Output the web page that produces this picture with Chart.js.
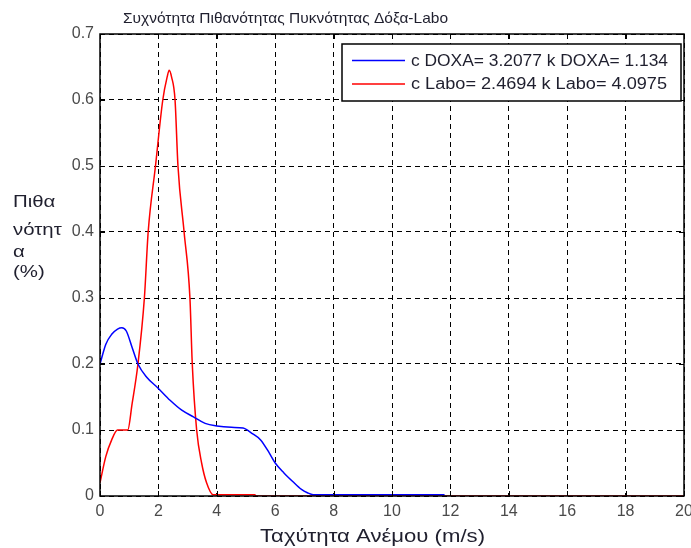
<!DOCTYPE html>
<html>
<head>
<meta charset="utf-8">
<script src="https://cdn.jsdelivr.net/npm/chart.js@4/dist/chart.umd.min.js"></script>
<style>
body { margin: 0; background: #fff; }
#wrap { width: 691px; height: 548px; }
</style>
</head>
<body>
<div id="wrap"><canvas id="myChart"></canvas></div>
<script>
// chart texts
var chartTitle = 'Συχνότητα Πιθανότητας Πυκνότητας Δόξα-Labo';
var xTitle = 'Ταχύτητα Ανέμου (m/s)';
var yTitle = ['Πιθα', 'νότητ', 'α', '(%)'];
var xTicks = [0, 2, 4, 6, 8, 10, 12, 14, 16, 18, 20];
var yTicks = [0, 0.1, 0.2, 0.3, 0.4, 0.5, 0.6, 0.7];

// series
var doxaLabel = 'c DOXA= 3.2077 k DOXA= 1.134';
var doxaX = [0, 0.2, 0.4, 0.6, 0.75, 0.9, 1.1, 1.3, 1.6, 2.0, 2.4, 2.8, 3.2, 3.6, 4.0, 4.5, 4.9, 5.2, 5.5, 5.8, 6.0, 6.3, 6.6, 6.9, 7.1, 7.3, 11.8];
var doxaY = [0.2, 0.23, 0.245, 0.253, 0.255, 0.25, 0.225, 0.2, 0.18, 0.163, 0.145, 0.13, 0.12, 0.11, 0.106, 0.104, 0.103, 0.095, 0.085, 0.065, 0.05, 0.035, 0.022, 0.01, 0.005, 0.002, 0.002];

var laboLabel = 'c Labo= 2.4694 k Labo= 4.0975';
var laboX = [0, 0.2, 0.4, 0.6, 0.95, 1.1, 1.3, 1.52, 1.65, 1.9, 2.15, 2.3, 2.37, 2.45, 2.57, 2.67, 2.88, 3.08, 3.16, 3.31, 3.48, 3.65, 3.87, 5.3, 5.35, 20];
var laboY = [0.02, 0.06, 0.085, 0.1, 0.1, 0.14, 0.2, 0.3, 0.4, 0.5, 0.6, 0.635, 0.645, 0.635, 0.6, 0.5, 0.4, 0.3, 0.2, 0.1, 0.05, 0.02, 0.002, 0.002, 0, 0];

function pairs(xs, ys) {
    return xs.map(function (x, i) { return { x: x, y: ys[i] }; });
}

var FONT = '"Liberation Sans", Arial, sans-serif';
var TXT = '#1f1f2e';

// draws text left-aligned, stretched sideways to a given width (or by a factor)
function drawText(ctx, text, x, y, size, width, factor) {
    ctx.save();
    ctx.font = size + 'px ' + FONT;
    ctx.textAlign = 'left';
    ctx.textBaseline = 'middle';
    var w = ctx.measureText(text).width;
    var sx = width ? width / w : (factor || 1);
    ctx.translate(x, y);
    ctx.scale(sx, 1);
    ctx.fillText(text, 0, 0);
    ctx.restore();
}

var framePlugin = {
    id: 'frame',
    beforeDraw: function (chart) {
        var ctx = chart.ctx;
        ctx.save();
        ctx.fillStyle = '#fff';
        ctx.fillRect(0, 0, chart.width, chart.height);
        ctx.restore();
    },
    afterDraw: function (chart) {
        var ctx = chart.ctx, a = chart.chartArea;
        var xs = chart.scales.x, ys = chart.scales.y;
        ctx.save();
        ctx.setLineDash([]);
        ctx.strokeStyle = '#000';
        ctx.lineWidth = 1.5;
        ctx.strokeRect(Math.round(a.left), Math.round(a.top), Math.round(a.width), Math.round(a.height));

        // ticks pointing inside, all four sides
        ctx.lineWidth = 1;
        ctx.beginPath();
        xTicks.forEach(function (v) {
            var px = Math.round(xs.getPixelForValue(v)) + 0.5;
            ctx.moveTo(px, a.bottom); ctx.lineTo(px, a.bottom - 5);
            ctx.moveTo(px, a.top); ctx.lineTo(px, a.top + 5);
        });
        yTicks.forEach(function (v) {
            var py = Math.round(ys.getPixelForValue(v)) + 0.5;
            ctx.moveTo(a.left, py); ctx.lineTo(a.left + 5, py);
            ctx.moveTo(a.right, py); ctx.lineTo(a.right - 5, py);
        });
        ctx.stroke();

        // titles
        ctx.fillStyle = TXT;
        drawText(ctx, chartTitle, 123, 19, 15, 325);
        drawText(ctx, xTitle, 260, 537, 18, 225);
        var yCenters = [202, 230, 252, 272];
        yTitle.forEach(function (t, i) {
            drawText(ctx, t, 13, yCenters[i], 17, 0, 1.2);
        });

        // legend box
        var bx = 342, by = 44, bw = 339, bh = 57;
        ctx.fillStyle = '#fff';
        ctx.fillRect(bx, by, bw, bh);
        ctx.strokeStyle = '#000';
        ctx.lineWidth = 1.5;
        ctx.strokeRect(bx, by, bw, bh);
        chart.data.datasets.forEach(function (ds, i) {
            var ly = 60.5 + i * 23.5;
            ctx.strokeStyle = ds.borderColor;
            ctx.lineWidth = 1.5;
            ctx.beginPath();
            ctx.moveTo(352, ly); ctx.lineTo(405, ly);
            ctx.stroke();
            ctx.fillStyle = TXT;
            drawText(ctx, ds.label, 411, ly + 1, 16, i === 0 ? 257 : 256);
        });
        ctx.restore();
    }
};

var area = document.getElementById('myChart');
new Chart(area, {
    type: 'line',
    data: {
        datasets: [{
            label: doxaLabel,
            data: pairs(doxaX, doxaY),
            borderColor: '#0000ff',
            borderWidth: 1.5,
            pointRadius: 0,
            cubicInterpolationMode: 'monotone',
            order: 1
        }, {
            label: laboLabel,
            data: pairs(laboX, laboY),
            borderColor: '#ff0000',
            borderWidth: 1.5,
            pointRadius: 0,
            cubicInterpolationMode: 'monotone',
            order: 2
        }]
    },
    options: {
        responsive: true,
        maintainAspectRatio: false,
        animation: false,
        layout: { padding: { left: 0, right: 7, top: 34, bottom: 0 } },
        plugins: {
            legend: { display: false },
            title: { display: false },
            tooltip: { enabled: false }
        },
        scales: {
            x: {
                type: 'linear',
                min: 0,
                max: 20,
                afterBuildTicks: function (s) { s.ticks = xTicks.map(function (v) { return { value: v }; }); },
                afterFit: function (s) { s.height = 52; s.paddingLeft = 0; s.paddingRight = 0; },
                ticks: { color: '#4a4a4a', font: { family: FONT, size: 16 }, padding: 6, maxRotation: 0 },
                grid: { color: '#000', lineWidth: 1, drawTicks: false },
                border: { display: false, dash: [5, 4] }
            },
            y: {
                min: 0,
                max: 0.7,
                afterBuildTicks: function (s) { s.ticks = yTicks.map(function (v) { return { value: v }; }); },
                afterFit: function (s) { s.width = 100; s.paddingTop = 0; s.paddingBottom = 0; },
                ticks: {
                    color: '#4a4a4a',
                    font: { family: FONT, size: 16 },
                    padding: 6,
                    callback: function (v) { return String(Number(v.toFixed(1))); }
                },
                grid: { color: '#000', lineWidth: 1, drawTicks: false },
                border: { display: false, dash: [5, 4] }
            }
        }
    },
    plugins: [framePlugin]
});
</script>
</body>
</html>
